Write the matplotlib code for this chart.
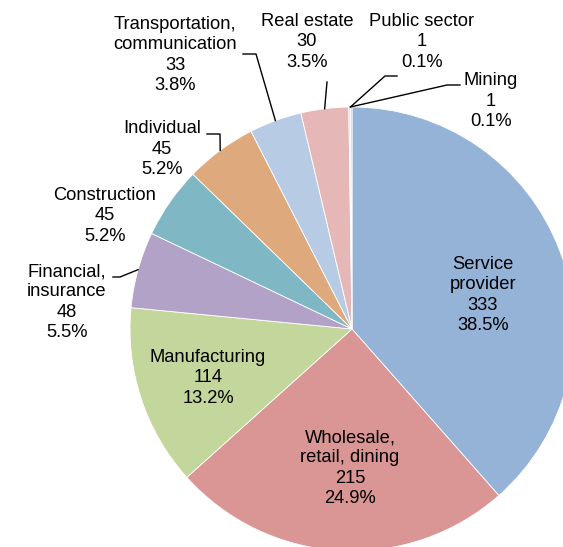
import numpy as np
import matplotlib.pyplot as plt

plt.rcParams['font.family'] = ['Liberation Sans', 'DejaVu Sans']

# 업종별 건수
labels = ['Service\nprovider', 'Wholesale,\nretail, dining', 'Manufacturing',
          'Financial,\ninsurance', 'Construction', 'Individual',
          'Transportation,\ncommunication', 'Real estate', 'Public sector', 'Mining']
counts = [333, 215, 114, 48, 45, 45, 33, 30, 1, 1]
colors = ['#95B3D7', '#D99694', '#C3D69B', '#B3A2C7', '#80B7C5',
          '#DEA97C', '#B7CBE4', '#E5B8B7', '#D7E4BD', '#CCC1DA']

W, H = 563, 547
cx, cy, r = 352, H - 329, 222   # pixel 기준 좌표

# 라벨 위치 (pixel), 리더선 꺾이는 점 (None 이면 선 없음)
label_pos = [(483, 295), (350, 468), (208, 378), (67, 302), (105, 216),
             (162, 149), (175, 55), (307, 42), (422, 42), (491, 101)]
elbows = [None, None, None, [(113, 277), (120, 277)], None,
          [(207, 134), (220, 134)], [(243, 54), (256, 54)], [(327, 82)],
          [(397, 76), (385, 76)], [(460, 85), (447, 85)]]

fig = plt.figure(figsize=(W / 100, H / 100), dpi=100)
ax = fig.add_axes([0, 0, 1, 1])

wedges, _ = ax.pie(counts, colors=colors, startangle=90, counterclock=False,
                   center=(cx, cy), radius=r,
                   wedgeprops=dict(edgecolor='white', linewidth=0.6))
ax.set_xlim(0, W)
ax.set_ylim(0, H)
ax.set_aspect('equal')
ax.axis('off')

total = sum(counts)
for i, w in enumerate(wedges):
    pct = counts[i] / total * 100
    txt = f'{labels[i]}\n{counts[i]}\n{pct:.1f}%'
    lx, ly = label_pos[i]
    ax.text(lx, H - ly, txt, ha='center', va='center', fontsize=13.2,
            linespacing=1.25, color='black')
    if elbows[i] is not None:
        mid = np.deg2rad((w.theta1 + w.theta2) / 2)
        if i >= 8:
            mid = np.deg2rad(w.theta2 if i == 9 else w.theta1)
        ex = cx + r * np.cos(mid)
        ey = cy + r * np.sin(mid)
        pts = [(x, H - y) for x, y in elbows[i]] + [(ex, ey)]
        ax.plot([p[0] for p in pts], [p[1] for p in pts], color='black', lw=1.0)

fig.savefig('out.png', dpi=100)
